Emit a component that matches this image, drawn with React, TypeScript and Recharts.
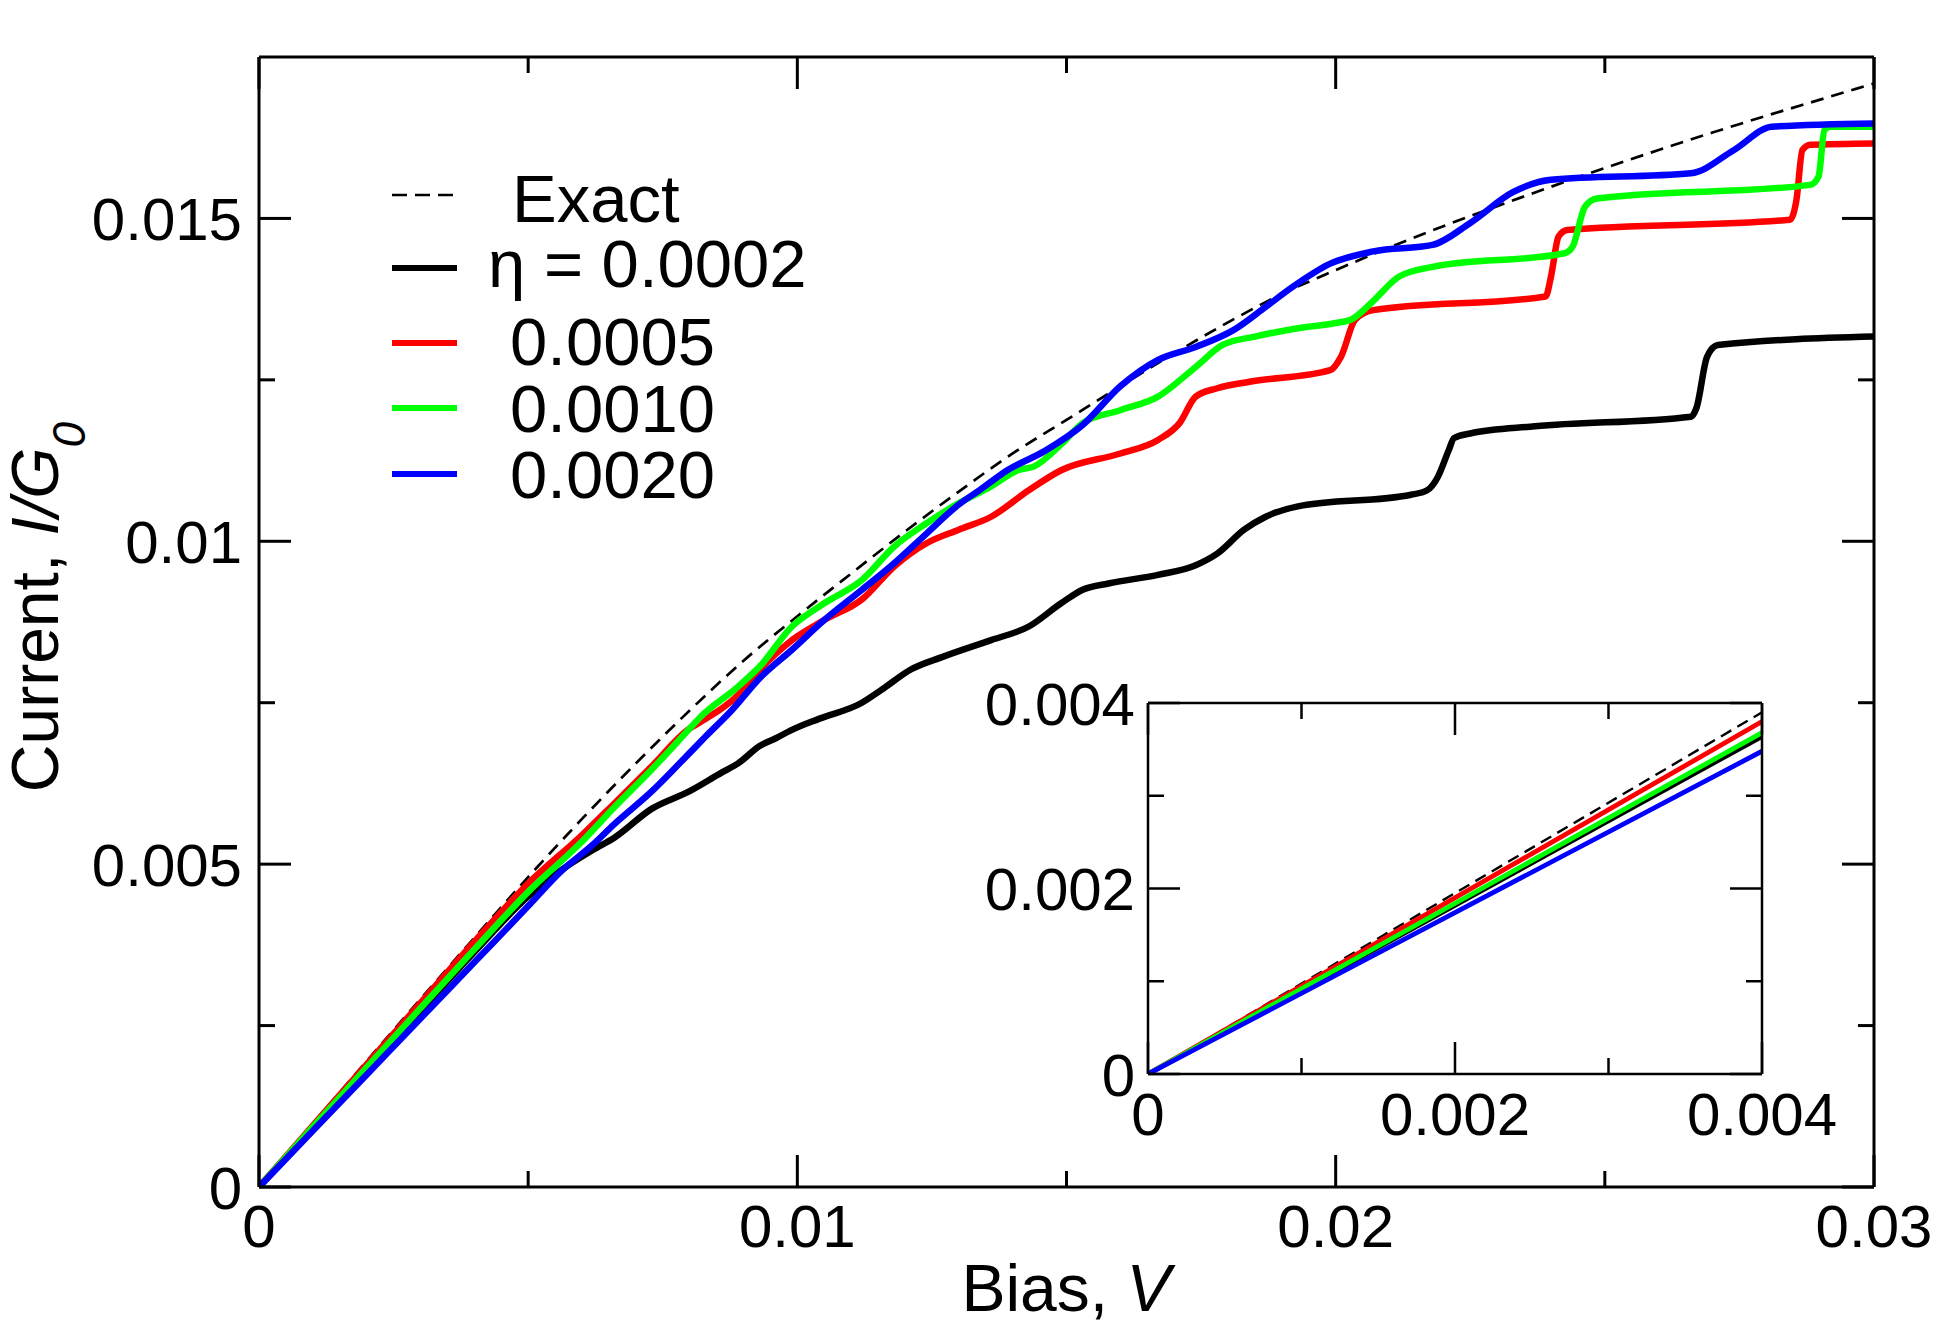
import React from 'react';
import { LineChart, Line, XAxis, YAxis, CartesianGrid } from 'recharts';

const FONT = '"Liberation Sans", Arial, Helvetica, sans-serif';

// main panel: [bias V, current I/G0]
const EXACT: [number, number][] = [
  [0, 0], [0.001, 0.00098], [0.002, 0.00195], [0.003, 0.00291], [0.004, 0.00386],
  [0.005, 0.0048], [0.006, 0.0057], [0.007, 0.00656], [0.008, 0.00738], [0.009, 0.00815],
  [0.01, 0.00884], [0.011, 0.0095], [0.012, 0.01015], [0.013, 0.01077], [0.014, 0.01136],
  [0.015, 0.01188], [0.016, 0.0124], [0.017, 0.01291], [0.018, 0.01339], [0.019, 0.01383],
  [0.02, 0.0142], [0.021, 0.01455], [0.022, 0.01488], [0.023, 0.01519], [0.024, 0.01549],
  [0.025, 0.01578], [0.026, 0.01606], [0.027, 0.01633], [0.028, 0.01659], [0.029, 0.01684],
  [0.03, 0.01709],
];

const ETA_0002: [number, number][] = [
  [0, 0], [0.001, 0.00091], [0.002, 0.00182], [0.003, 0.00273], [0.004, 0.00364],
  [0.005, 0.0045], [0.0056, 0.0049], [0.0062, 0.00522], [0.0066, 0.00541], [0.0073, 0.00586],
  [0.008, 0.00613], [0.0086, 0.00642], [0.0089, 0.00656], [0.0093, 0.00683], [0.0096, 0.00695],
  [0.0099, 0.00708], [0.0104, 0.00725], [0.0112, 0.0075], [0.0116, 0.00772], [0.0121, 0.00801],
  [0.0127, 0.00821], [0.0136, 0.00847], [0.0143, 0.00868], [0.0149, 0.00904], [0.0153, 0.00925],
  [0.0158, 0.00935], [0.0167, 0.00948], [0.0174, 0.00963], [0.0178, 0.00981], [0.0183, 0.01018],
  [0.0187, 0.01038], [0.0193, 0.01054], [0.0214, 0.01072], [0.0217, 0.01079], [0.0219, 0.011],
  [0.0221, 0.01141], [0.0222, 0.0116], [0.0225, 0.01167], [0.0237, 0.01178], [0.0266, 0.01193],
  [0.0267, 0.01206], [0.0269, 0.01286], [0.0271, 0.01304], [0.03, 0.01317],
];

const ETA_0005: [number, number][] = [
  [0, 0], [0.001, 0.00095], [0.002, 0.0019], [0.003, 0.00285], [0.004, 0.0038],
  [0.005, 0.0047], [0.006, 0.00545], [0.0066, 0.00594], [0.0073, 0.00652], [0.008, 0.0071],
  [0.0082, 0.0072], [0.0089, 0.00762], [0.0093, 0.00801], [0.0099, 0.00847], [0.0105, 0.00878],
  [0.0112, 0.0091], [0.0118, 0.00961], [0.0124, 0.00997], [0.013, 0.01018], [0.0136, 0.01038],
  [0.0143, 0.01079], [0.0149, 0.0111], [0.016, 0.01136], [0.0167, 0.01157], [0.0171, 0.01183],
  [0.0174, 0.01224], [0.0178, 0.01237], [0.0184, 0.01247], [0.0199, 0.01265], [0.0201, 0.01286],
  [0.02036, 0.01343], [0.0207, 0.01358], [0.0239, 0.01379], [0.024, 0.0141], [0.02414, 0.01472],
  [0.0243, 0.01482], [0.02844, 0.01498], [0.02856, 0.01529], [0.02867, 0.01606], [0.02882, 0.01614],
  [0.03, 0.01616],
];

const ETA_0010: [number, number][] = [
  [0, 0], [0.001, 0.00093], [0.002, 0.00185], [0.003, 0.00277], [0.004, 0.00368],
  [0.005, 0.00457], [0.006, 0.00535], [0.0066, 0.00588], [0.0073, 0.00647], [0.008, 0.0071],
  [0.0082, 0.00728], [0.0089, 0.00775], [0.0093, 0.00806], [0.0099, 0.00868], [0.0105, 0.00904],
  [0.0112, 0.0094], [0.0118, 0.00992], [0.0124, 0.01028], [0.013, 0.01059], [0.0136, 0.01085],
  [0.0141, 0.0111], [0.0144, 0.01116], [0.0149, 0.0115], [0.0153, 0.01183], [0.016, 0.01203],
  [0.0167, 0.01224], [0.0174, 0.0127], [0.0179, 0.01304], [0.0185, 0.01317], [0.0193, 0.0133],
  [0.02, 0.01338], [0.02028, 0.01343], [0.02066, 0.01369], [0.02118, 0.0141], [0.0218, 0.01425],
  [0.02425, 0.01446], [0.0244, 0.01456], [0.02463, 0.01518], [0.02485, 0.01531], [0.02882, 0.01552],
  [0.02897, 0.01565], [0.02908, 0.01637], [0.02919, 0.01642], [0.03, 0.01642],
];

const ETA_0020: [number, number][] = [
  [0, 0], [0.001, 0.00087], [0.002, 0.00174], [0.003, 0.00261], [0.004, 0.00348],
  [0.005, 0.00435], [0.0056, 0.00488], [0.0062, 0.0053], [0.0066, 0.00562], [0.0073, 0.00613],
  [0.0078, 0.00655], [0.0083, 0.00698], [0.0088, 0.0074], [0.0093, 0.00788], [0.0099, 0.00832],
  [0.0105, 0.00878], [0.0112, 0.00925], [0.0118, 0.00966], [0.0124, 0.01012], [0.013, 0.01057],
  [0.0134, 0.0108], [0.0139, 0.0111], [0.0146, 0.0114], [0.0153, 0.0118], [0.016, 0.0124],
  [0.0167, 0.01281], [0.0174, 0.01301], [0.0181, 0.01327], [0.0187, 0.01363], [0.0192, 0.01394],
  [0.0199, 0.0143], [0.0207, 0.01449], [0.0218, 0.01459], [0.0225, 0.01493], [0.0233, 0.01541],
  [0.024, 0.0156], [0.0266, 0.0157], [0.0274, 0.01606], [0.0281, 0.01642], [0.03, 0.01647],
];

// inset (small bias)
const IN_EXACT: [number, number][] = [[0, 0], [0.004, 0.0039]];
const IN_0002: [number, number][] = [[0, 0], [0.004, 0.00364]];
const IN_0005: [number, number][] = [[0, 0], [0.004, 0.0038]];
const IN_0010: [number, number][] = [[0, 0], [0.004, 0.00368]];
const IN_0020: [number, number][] = [[0, 0], [0.004, 0.00348]];

const X_TICKS = [0, 0.005, 0.01, 0.015, 0.02, 0.025, 0.03];
const X_LABELS = ['0', '', '0.01', '', '0.02', '', '0.03'];
const Y_TICKS = [0, 0.0025, 0.005, 0.0075, 0.01, 0.0125, 0.015];
const Y_LABELS = ['0', '', '0.005', '', '0.01', '', '0.015'];
const IN_TICKS = [0, 0.001, 0.002, 0.003, 0.004];
const IN_LABELS = ['0', '', '0.002', '', '0.004'];

const LEGEND_NAMES = ['Exact', 'η = 0.0002', '0.0005', '0.0010', '0.0020'];

const toRows = (pts: [number, number][]) => pts.map(([x, y]) => ({ x, y }));

const MAIN = [
  { key: 'exact', data: EXACT, color: '#000000', width: 2.7, dash: '13 8' },
  { key: 'e2', data: ETA_0002, color: '#000000', width: 6.5 },
  { key: 'e5', data: ETA_0005, color: '#ff0000', width: 6.5 },
  { key: 'e10', data: ETA_0010, color: '#00ff00', width: 6.5 },
  { key: 'e20', data: ETA_0020, color: '#0000ff', width: 6.5 },
];

const INSET = [
  { key: 'exact', data: IN_EXACT, color: '#000000', width: 2.4, dash: '12 7' },
  { key: 'e2', data: IN_0002, color: '#000000', width: 4.8 },
  { key: 'e5', data: IN_0005, color: '#ff0000', width: 4.8 },
  { key: 'e10', data: IN_0010, color: '#00ff00', width: 4.8 },
  { key: 'e20', data: IN_0020, color: '#0000ff', width: 4.8 },
];

type Side = 'left' | 'right' | 'top' | 'bottom';

// inward ticks, long for labelled values, short otherwise
function makeTick(side: Side, ticks: number[], labels: string[], showLabel: boolean, sw: number, gap: number, base: number) {
  return function Tick(props: any) {
    const { x, y, payload } = props;
    const i = ticks.indexOf(payload.value);
    const label = i >= 0 ? labels[i] : '';
    const len = label ? 32 : 16;
    let x2 = x, y2 = y;
    if (side === 'left') x2 = x + len;
    if (side === 'right') x2 = x - len;
    if (side === 'bottom') y2 = y - len;
    if (side === 'top') y2 = y + len;
    return (
      <g>
        <line x1={x} y1={y} x2={x2} y2={y2} stroke="#000" strokeWidth={sw} />
        {showLabel && label && side === 'left' ? (
          <text x={x - gap} y={y} dy="0.36em" textAnchor="end" fontSize={60} fontFamily={FONT} fill="#000">{label}</text>
        ) : null}
        {showLabel && label && side === 'bottom' ? (
          <text x={x} y={y + base} textAnchor="middle" fontSize={60} fontFamily={FONT} fill="#000">{label}</text>
        ) : null}
      </g>
    );
  };
}

// axes are 1px thick so recharts still draws them; margins absorb that pixel
const axisCommon = { type: 'number' as const, allowDataOverflow: true, interval: 0 as const, tickSize: 0, tickMargin: 0, tickLine: false };

export default function App() {
  return (
    <div style={{ position: 'absolute', left: 0, top: 0, width: 1942, height: 1327, background: '#fff' }}>
      <div style={{ position: 'absolute', left: 0, top: 0 }}>
        <LineChart width={1942} height={1327} margin={{ top: 56, right: 67, bottom: 139, left: 258 }}>
          <XAxis xAxisId="b" dataKey="x" {...axisCommon} domain={[0, 0.03]} ticks={X_TICKS} height={1}
            axisLine={{ stroke: '#000', strokeWidth: 3 }} tick={makeTick('bottom', X_TICKS, X_LABELS, true, 3, 0, 60)} />
          <XAxis xAxisId="t" orientation="top" dataKey="x" {...axisCommon} domain={[0, 0.03]} ticks={X_TICKS} height={1}
            axisLine={{ stroke: '#000', strokeWidth: 3 }} tick={makeTick('top', X_TICKS, X_LABELS, false, 3, 0, 0)} />
          <YAxis yAxisId="l" {...axisCommon} domain={[0, 0.0175]} ticks={Y_TICKS} width={1}
            axisLine={{ stroke: '#000', strokeWidth: 3 }} tick={makeTick('left', Y_TICKS, Y_LABELS, true, 3, 17, 0)} />
          <YAxis yAxisId="r" orientation="right" {...axisCommon} domain={[0, 0.0175]} ticks={Y_TICKS} width={1}
            axisLine={{ stroke: '#000', strokeWidth: 3 }} tick={makeTick('right', Y_TICKS, Y_LABELS, false, 3, 0, 0)} />
          {MAIN.map((s) => (
            <Line key={s.key} xAxisId="b" yAxisId="l" data={toRows(s.data)} dataKey="y" type="monotone"
              stroke={s.color} strokeWidth={s.width} strokeDasharray={s.dash} dot={false} activeDot={false}
              isAnimationActive={false} strokeLinejoin="round" />
          ))}
        </LineChart>
      </div>

      <div style={{ position: 'absolute', left: 960, top: 650 }}>
        <LineChart width={900} height={510} margin={{ top: 52, right: 97, bottom: 85, left: 187 }} style={{ overflow: 'visible' }}>
          <CartesianGrid xAxisId="b" yAxisId="l" horizontal={false} vertical={false} fill="#fff" fillOpacity={1} />
          <XAxis xAxisId="b" dataKey="x" {...axisCommon} domain={[0, 0.004]} ticks={IN_TICKS} height={1}
            axisLine={{ stroke: '#000', strokeWidth: 2.5 }} tick={makeTick('bottom', IN_TICKS, IN_LABELS, true, 2.5, 0, 61)} />
          <XAxis xAxisId="t" orientation="top" dataKey="x" {...axisCommon} domain={[0, 0.004]} ticks={IN_TICKS} height={1}
            axisLine={{ stroke: '#000', strokeWidth: 2.5 }} tick={makeTick('top', IN_TICKS, IN_LABELS, false, 2.5, 0, 0)} />
          <YAxis yAxisId="l" {...axisCommon} domain={[0, 0.004]} ticks={IN_TICKS} width={1}
            axisLine={{ stroke: '#000', strokeWidth: 2.5 }} tick={makeTick('left', IN_TICKS, IN_LABELS, true, 2.5, 13, 0)} />
          <YAxis yAxisId="r" orientation="right" {...axisCommon} domain={[0, 0.004]} ticks={IN_TICKS} width={1}
            axisLine={{ stroke: '#000', strokeWidth: 2.5 }} tick={makeTick('right', IN_TICKS, IN_LABELS, false, 2.5, 0, 0)} />
          {INSET.map((s) => (
            <Line key={s.key} xAxisId="b" yAxisId="l" data={toRows(s.data)} dataKey="y" type="linear"
              stroke={s.color} strokeWidth={s.width} strokeDasharray={s.dash} dot={false} activeDot={false}
              isAnimationActive={false} />
          ))}
        </LineChart>
      </div>

      <svg width={1942} height={1327} style={{ position: 'absolute', left: 0, top: 0, pointerEvents: 'none' }}>
        <g fontFamily={FONT} fill="#000">
          <text x={1066} y={1311} textAnchor="middle" fontSize={66}>
            Bias, <tspan fontStyle="italic">V</tspan>
          </text>
          <text transform="rotate(-90)" x={-607} y={58} textAnchor="middle" fontSize={66}>
            Current, <tspan fontStyle="italic">I/G</tspan>
            <tspan fontStyle="italic" fontSize={46} dy={27}>0</tspan>
          </text>
        </g>
        {MAIN.map((s, i) => {
          const ly = [195, 268, 343, 408, 474][i];
          const ty = [222, 287, 365, 432, 498][i];
          const tx = i === 1 ? 488 : i === 0 ? 512 : 510;
          return (
            <g key={s.key}>
              <line x1={392} y1={ly} x2={457} y2={ly} stroke={s.color} strokeWidth={s.dash ? 2.7 : 6} strokeDasharray={s.dash ? '15 8' : undefined} />
              <text x={tx} y={ty} fontSize={67} fontFamily={FONT} fill="#000">{LEGEND_NAMES[i]}</text>
            </g>
          );
        })}
      </svg>
    </div>
  );
}
